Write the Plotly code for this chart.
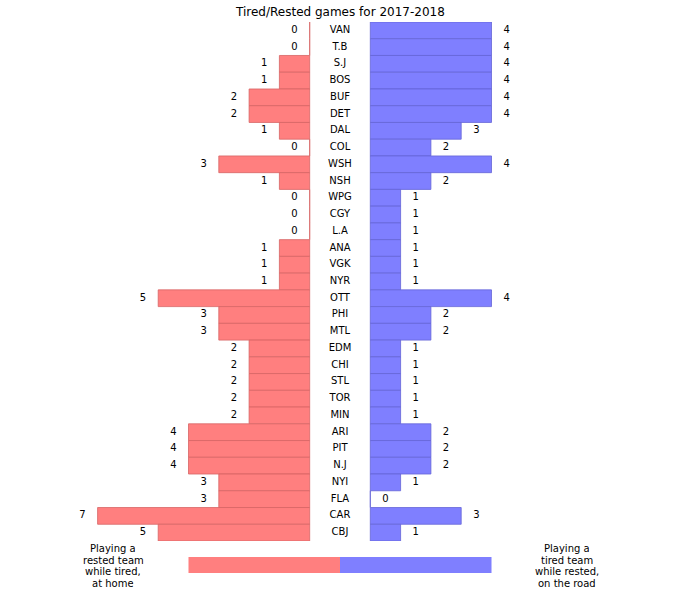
import plotly.graph_objects as go

teams = ["VAN", "T.B", "S.J", "BOS", "BUF", "DET", "DAL", "COL", "WSH", "NSH",
         "WPG", "CGY", "L.A", "ANA", "VGK", "NYR", "OTT", "PHI", "MTL", "EDM",
         "CHI", "STL", "TOR", "MIN", "ARI", "PIT", "N.J", "NYI", "FLA", "CAR", "CBJ"]
tired_home = [0, 0, 1, 1, 2, 2, 1, 0, 3, 1,
              0, 0, 0, 1, 1, 1, 5, 3, 3, 2,
              2, 2, 2, 2, 4, 4, 4, 3, 3, 7, 5]
rested_road = [4, 4, 4, 4, 4, 4, 3, 2, 4, 2,
               1, 1, 1, 1, 1, 1, 4, 2, 2, 1,
               1, 1, 1, 1, 2, 2, 2, 1, 0, 3, 1]
legend_size = 5
title = "Tired/Rested games for 2017-2018"
left_caption = ["Playing a", "rested team", "while tired,", "at home"]
right_caption = ["Playing a", "tired team", "while rested,", "on the road"]

RED = "rgb(255,127,127)"
BLUE = "rgb(127,127,255)"
FONT = "DejaVu Sans"
gap = 1.0
off = 0.5

fig = go.Figure()
fig.add_trace(go.Bar(y=teams, x=[-v for v in tired_home], base=-gap, orientation="h",
                     width=1, marker=dict(color=RED, line=dict(color="rgb(215,100,100)", width=0.8)),
                     showlegend=False, hoverinfo="skip"))
fig.add_trace(go.Bar(y=teams, x=rested_road, base=gap, orientation="h",
                     width=1, marker=dict(color=BLUE, line=dict(color="rgb(100,100,215)", width=0.8)),
                     showlegend=False, hoverinfo="skip"))
fig.add_trace(go.Scatter(y=teams, x=[-(gap + v) - off for v in tired_home], mode="text",
                         text=[str(v) for v in tired_home], textposition="middle center",
                         textfont=dict(family=FONT, size=10, color="black"), showlegend=False, hoverinfo="skip"))
fig.add_trace(go.Scatter(y=teams, x=[(gap + v) + off for v in rested_road], mode="text",
                         text=[str(v) for v in rested_road], textposition="middle center",
                         textfont=dict(family=FONT, size=10, color="black"), showlegend=False, hoverinfo="skip"))
fig.add_trace(go.Scatter(y=teams, x=[0] * len(teams), mode="text", text=teams,
                         textposition="middle center",
                         textfont=dict(family=FONT, size=10, color="black"), showlegend=False, hoverinfo="skip"))
# bottom legend bar
fig.add_trace(go.Bar(y=[0], x=[-legend_size], base=0, orientation="h", width=1, yaxis="y2",
                     marker=dict(color=RED, line=dict(width=0)), showlegend=False, hoverinfo="skip"))
fig.add_trace(go.Bar(y=[0], x=[legend_size], base=0, orientation="h", width=1, yaxis="y2",
                     marker=dict(color=BLUE, line=dict(width=0)), showlegend=False, hoverinfo="skip"))

W, H = 680, 595
half = 340 / 30.3
annotations = [
    dict(text=title, x=0.5, y=1 - 12 / H, xref="paper", yref="paper", showarrow=False,
         font=dict(family=FONT, size=12), xanchor="center", yanchor="middle"),
]
for i, line in enumerate(left_caption):
    annotations.append(dict(text=line, x=113 / W, y=1 - (548.5 + 11.5 * i) / H, xref="paper", yref="paper",
                            showarrow=False, font=dict(family=FONT, size=10), height=11,
                            xanchor="center", yanchor="middle"))
for i, line in enumerate(right_caption):
    annotations.append(dict(text=line, x=567 / W, y=1 - (548.5 + 11.5 * i) / H, xref="paper", yref="paper",
                            showarrow=False, font=dict(family=FONT, size=10), height=11,
                            xanchor="center", yanchor="middle"))

fig.update_layout(
    width=W, height=H, margin=dict(l=0, r=0, t=0, b=0),
    paper_bgcolor="white", plot_bgcolor="white", barmode="overlay",
    xaxis=dict(range=[-half, half], visible=False, fixedrange=True),
    yaxis=dict(domain=[1 - 541 / H, 1 - 22 / H], range=[len(teams) - 0.5, -0.5],
               type="category", visible=False),
    yaxis2=dict(domain=[1 - 573 / H, 1 - 557 / H], range=[-0.5, 0.5], visible=False, anchor="x"),
    font=dict(family=FONT, size=10, color="black"),
    annotations=annotations,
)
fig.write_html("out.html", config={"displayModeBar": False},
               post_script="document.body.style.margin='0';document.body.style.overflow='hidden';")
